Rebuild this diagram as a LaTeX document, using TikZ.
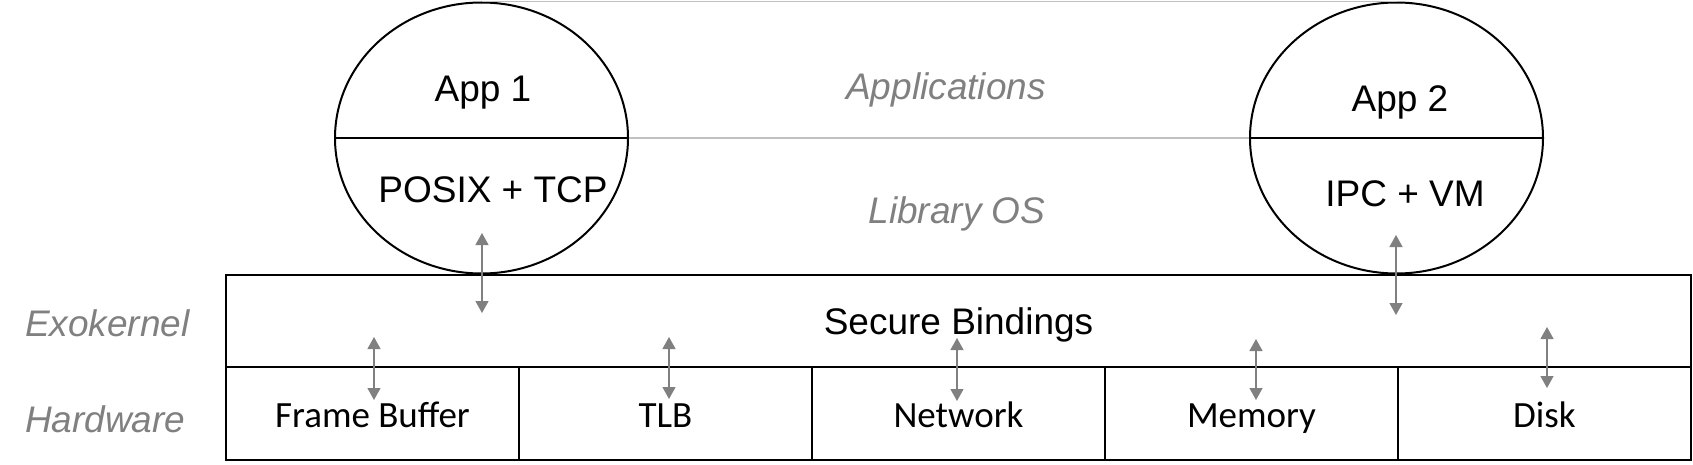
\documentclass[tikz,border=0pt]{standalone}
\usepackage{fontspec}
\setmainfont{Liberation Sans}
\newfontfamily\calibri{Carlito}
\usepackage{tikz}
\usetikzlibrary{shapes.geometric,arrows.meta}

\definecolor{labelgray}{RGB}{128,128,128}
\definecolor{guidegray}{RGB}{192,192,192}

\tikzset{
  app/.style={ellipse, draw, line width=1pt, minimum width=146.5pt, minimum height=135.5pt, inner sep=0pt},
  layer/.style={draw, line width=1.3pt, inner sep=0pt, text height=13.75pt, text depth=0pt, font=\fontsize{18.5}{22}\selectfont},
  hwcell/.style={layer, minimum width=146.5pt, minimum height=46.5pt, font=\calibri\fontsize{18.5}{22}\selectfont},
  applabel/.style={anchor=base, font=\fontsize{18.5}{22}\selectfont},
  sidelabel/.style={text=labelgray, font=\itshape\fontsize{18.5}{22}\selectfont},
  guide/.style={draw=guidegray, line width=0.6pt},
  biarrow/.style={{Triangle[length=6pt,width=6.5pt]}-{Triangle[length=6pt,width=6.5pt]}, draw=labelgray, fill=labelgray, line width=0.6pt}
}

\begin{document}
\begin{tikzpicture}[x=0.5pt, y=-0.5pt]

  \useasboundingbox (0,0) rectangle (1693,465);

  % 2 application ellipses.
  \node[app] (app1) at (481.5,138) {};
  \node[app] (app2) at (1396.5,138) {};
  \draw[line width=0.75pt] (app1.west) -- (app1.east);
  \draw[line width=0.75pt] (app2.west) -- (app2.east);

  % Light guide lines between them.
  \draw[guide] (app1.north) -- (app2.north);
  \draw[guide] (app1.east) -- (app2.west);

  % Text inside the ellipses.
  \node[applabel] (app1name) at (483,102) {App 1};
  \node[applabel] (app1lib) at (493,202) {POSIX + TCP};
  \node[applabel] (app2name) at (1400,112) {App 2};
  \node[applabel] (app2lib) at (1405,206) {IPC + VM};

  % Layer annotations.
  \node[sidelabel, anchor=base] (apps) at (946,100) {Applications};
  \node[sidelabel, anchor=base] (libos) at (957,223) {Library OS};
  \node[sidelabel, anchor=base west] (exo) at (18,336) {Exokernel};
  \node[sidelabel, anchor=base west] (hw) at (18,432) {Hardware};

  % Exokernel box.
  \node[layer, minimum width=732.5pt, minimum height=46pt] (bind) at (958.5,321) {Secure Bindings};

  % Hardware cells.
  \node[hwcell] (fb) at (372.5,413.5) {Frame Buffer};
  \node[hwcell] (tlb) at (665.5,413.5) {TLB};
  \node[hwcell] (net) at (958.5,413.5) {Network};
  \node[hwcell] (mem) at (1251.5,413.5) {Memory};
  \node[hwcell] (disk) at (1544.5,413.5) {Disk};

  % Arrow end points.
  \coordinate (app1up) at (482,233);
  \coordinate (app1dn) at (482,313);
  \coordinate (app2up) at (1396,235);
  \coordinate (app2dn) at (1396,315);
  \coordinate (fbup) at (374,337);
  \coordinate (fbdn) at (374,400);
  \coordinate (tlbup) at (669,337);
  \coordinate (tlbdn) at (669,399);
  \coordinate (netup) at (957,338);
  \coordinate (netdn) at (957,401);
  \coordinate (memup) at (1256,339);
  \coordinate (memdn) at (1256,400);
  \coordinate (diskup) at (1547,327);
  \coordinate (diskdn) at (1547,388);

  % Double-headed gray arrows.
  \draw[biarrow] (app1up) -- (app1dn);
  \draw[biarrow] (app2up) -- (app2dn);
  \draw[biarrow] (fbup) -- (fbdn);
  \draw[biarrow] (tlbup) -- (tlbdn);
  \draw[biarrow] (netup) -- (netdn);
  \draw[biarrow] (memup) -- (memdn);
  \draw[biarrow] (diskup) -- (diskdn);

\end{tikzpicture}
\end{document}
